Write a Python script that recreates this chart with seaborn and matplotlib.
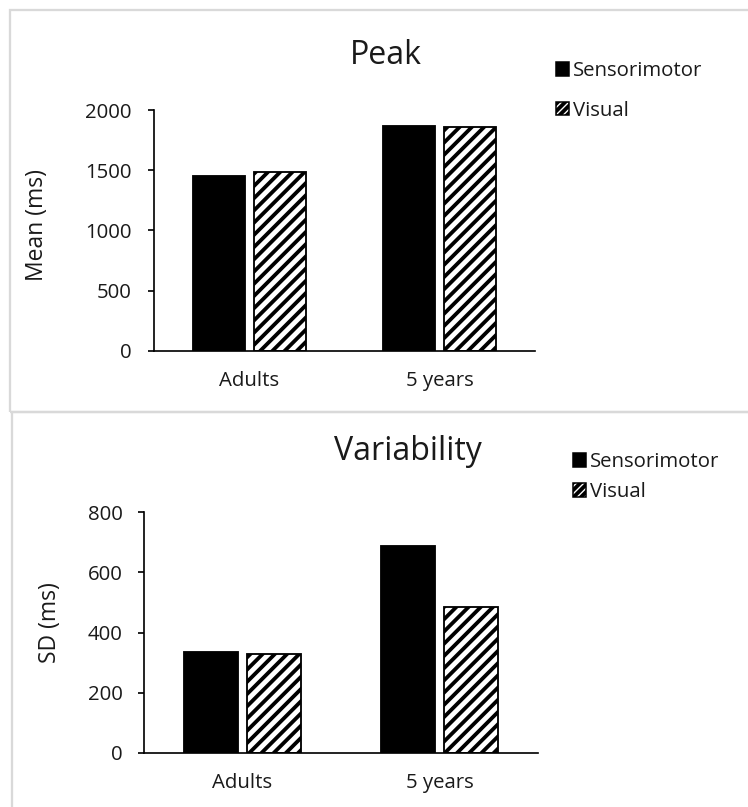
import numpy as np
import pandas as pd
import matplotlib
matplotlib.use("Agg")
import matplotlib.pyplot as plt
from matplotlib.patches import Patch, Rectangle
import seaborn as sns

# data
groups = ["Adults", "5 years"]
conditions = ["Sensorimotor", "Visual"]
peak_sensorimotor = [1455, 1868]
peak_visual = [1485, 1855]
sd_sensorimotor = [334, 686]
sd_visual = [328, 484]
peak_ticks = [0, 500, 1000, 1500, 2000]
sd_ticks = [0, 200, 400, 600, 800]

sns.set_style("white")
plt.rcParams['font.family'] = ['Open Sans', 'DejaVu Sans']
plt.rcParams['hatch.linewidth'] = 2.5
plt.rcParams['hatch.color'] = 'black'

W, H, DPI = 748, 807, 110
fig = plt.figure(figsize=(W / DPI, H / DPI), dpi=DPI)
txt = '#1a1a1a'
fs = 13.3


def fx(px):
    return px / W


def fy(py):
    return 1 - py / H


def make_df(s, v):
    return pd.DataFrame({
        "group": groups * 2,
        "condition": [conditions[0]] * 2 + [conditions[1]] * 2,
        "value": list(s) + list(v),
    })


def draw_panel(ax, df, ticks, tick_pad):
    sns.barplot(data=df, x="group", y="value", hue="condition", order=groups,
                hue_order=conditions, palette={"Sensorimotor": "black", "Visual": "white"},
                saturation=1, edgecolor="black", linewidth=1.2, width=0.64, gap=0.15,
                errorbar=None, legend=False, ax=ax)
    for bar in ax.containers[1]:
        bar.set_hatch('///')
    ax.set_xlim(-0.5, 1.5)
    ax.set_ylim(ticks[0], ticks[-1])
    ax.set_yticks(ticks)
    ax.set_xlabel("")
    ax.set_ylabel("")
    sns.despine(ax=ax, top=True, right=True)
    for sp in ["left", "bottom"]:
        ax.spines[sp].set_color("black")
        ax.spines[sp].set_linewidth(1.1)
    ax.tick_params(axis='y', left=True, length=4, width=1.1, color='black',
                   labelsize=fs, labelcolor=txt, pad=tick_pad)
    ax.tick_params(axis='x', bottom=False, length=0, labelsize=fs,
                   labelcolor=txt, pad=13)
    ax.set_facecolor('white')


def add_legend(x, y, spacing):
    handles = [Patch(facecolor='black', edgecolor='black', linewidth=1),
               Patch(facecolor='white', edgecolor='black', hatch='/////', linewidth=1)]
    fig.legend(handles, conditions, loc='upper left', bbox_to_anchor=(fx(x), fy(y)),
               frameon=False, fontsize=fs, handlelength=0.65, handleheight=0.65,
               handletextpad=0.2, labelspacing=spacing, borderpad=0,
               borderaxespad=0, labelcolor=txt)


# panel borders
fig.add_artist(Rectangle((fx(10), fy(412)), fx(800), 402 / H, transform=fig.transFigure,
                         fill=False, ec='#d9d9d9', lw=1.5))
fig.add_artist(Rectangle((fx(12), fy(830)), fx(800), 418 / H, transform=fig.transFigure,
                         fill=False, ec='#d9d9d9', lw=1.5))

# top panel: Peak
ax1 = fig.add_axes([fx(154), fy(351), fx(535 - 154), (351 - 110) / H])
draw_panel(ax1, make_df(peak_sensorimotor, peak_visual), peak_ticks, 10.5)
fig.text(fx(386), fy(55), "Peak", ha='center', va='center', fontsize=21, color=txt)
fig.text(fx(37), fy(225), "Mean (ms)", ha='center', va='center', rotation=90,
         fontsize=15, color=txt)
add_legend(556, 61, 0.97)

# bottom panel: Variability
ax2 = fig.add_axes([fx(144), fy(753), fx(538 - 144), (753 - 512) / H])
draw_panel(ax2, make_df(sd_sensorimotor, sd_visual), sd_ticks, 10)
fig.text(fx(408), fy(452), "Variability", ha='center', va='center', fontsize=21, color=txt)
fig.text(fx(50), fy(623), "SD (ms)", ha='center', va='center', rotation=90,
         fontsize=15, color=txt)
add_legend(573, 452, 0.49)

fig.savefig("out.png", dpi=DPI, facecolor='white')
